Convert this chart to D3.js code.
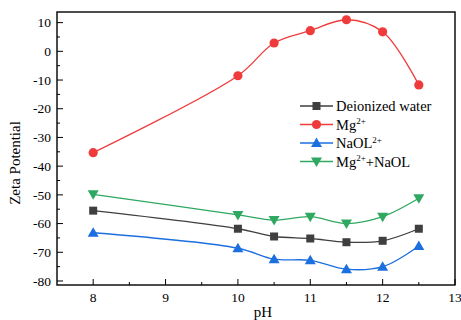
<!DOCTYPE html>
<html><head><meta charset="utf-8">
<script src="https://cdn.jsdelivr.net/npm/d3@7"></script>
<style>body{margin:0;background:#fff}svg{display:block}text{font-family:"Liberation Serif","DejaVu Serif",serif}</style>
</head><body><svg id="c" width="461" height="320"></svg>
<script>
const pH = [8, 10, 10.5, 11, 11.5, 12, 12.5];
const deionized = [-55.5, -61.8, -64.5, -65.2, -66.5, -66.0, -61.8];
const mg = [-35.3, -8.5, 2.9, 7.2, 11.0, 6.8, -11.7];
const naol = [-63.2, -68.6, -72.4, -72.8, -75.9, -75.0, -67.8];
const mgNaol = [-49.8, -57.0, -58.8, -57.6, -60.0, -57.6, -51.2];
const xTicks = [8, 9, 10, 11, 12, 13];
const yTicks = [10, 0, -10, -20, -30, -40, -50, -60, -70, -80];

const series = [
  {name: "Deionized water", vals: deionized, color: "#3f3f3f", sym: "square", sup: null},
  {name: "Mg", vals: mg, color: "#ef3b3b", sym: "circle", sup: "2+", after: ""},
  {name: "NaOL", vals: naol, color: "#1b6fdf", sym: "up", sup: "2+", after: ""},
  {name: "Mg", vals: mgNaol, color: "#2fa862", sym: "down", sup: "2+", after: "+NaOL"}
];

const svg = d3.select("#c");
const L = 57, R = 455, T = 12, B = 285;
const x = d3.scaleLinear().domain([7.5, 13]).range([L, R]);
const y = d3.scaleLinear().domain([-81.4, 13.7]).range([B, T]);

svg.append("rect").attr("x", L).attr("y", T).attr("width", R - L).attr("height", B - T)
  .attr("fill", "none").attr("stroke", "#000").attr("stroke-width", 1.4);

const yMinor = d3.range(-80, 14, 5);
const ag = svg.append("g");
yMinor.forEach(v => {
  const major = v % 10 === 0;
  ag.append("line").attr("x1", L).attr("x2", L + (major ? 6 : 3))
    .attr("y1", y(v)).attr("y2", y(v)).attr("stroke", "#000").attr("stroke-width", 1);
});
yTicks.forEach(v => {
  ag.append("text").attr("x", L - 6).attr("y", y(v)).attr("dy", "0.35em")
    .attr("text-anchor", "end").attr("font-size", 13.5).text(v);
});
const xMinor = d3.range(8, 13.01, 0.5);
xMinor.forEach(v => {
  const major = Number.isInteger(v);
  ag.append("line").attr("x1", x(v)).attr("x2", x(v))
    .attr("y1", B).attr("y2", B - (major ? 6 : 3)).attr("stroke", "#000").attr("stroke-width", 1);
});
xTicks.forEach(v => {
  ag.append("text").attr("x", x(v)).attr("y", 302).attr("text-anchor", "middle")
    .attr("font-size", 13.5).text(v);
});

svg.append("text").attr("x", 263).attr("y", 317).attr("text-anchor", "middle")
  .attr("font-size", 15).text("pH");
svg.append("text").attr("transform", "translate(20,163) rotate(-90)")
  .attr("text-anchor", "middle").attr("font-size", 15).text("Zeta Potential");

function marker(g, sym, cx, cy, color) {
  if (sym === "square") {
    g.append("rect").attr("x", cx - 4).attr("y", cy - 4).attr("width", 8).attr("height", 8).attr("fill", color);
  } else if (sym === "circle") {
    g.append("circle").attr("cx", cx).attr("cy", cy).attr("r", 4.6).attr("fill", color);
  } else if (sym === "up") {
    g.append("path").attr("d", `M${cx},${cy - 5.5}L${cx + 5.5},${cy + 4}L${cx - 5.5},${cy + 4}Z`).attr("fill", color);
  } else {
    g.append("path").attr("d", `M${cx},${cy + 5.5}L${cx + 5.5},${cy - 4}L${cx - 5.5},${cy - 4}Z`).attr("fill", color);
  }
}

const line = d3.line().x(d => x(d[0])).y(d => y(d[1])).curve(d3.curveCatmullRom.alpha(0.5));
series.forEach(s => {
  const pts = pH.map((p, i) => [p, s.vals[i]]);
  svg.append("path").attr("d", line(pts)).attr("fill", "none")
    .attr("stroke", s.color).attr("stroke-width", 1.3);
  const g = svg.append("g");
  pts.forEach(p => marker(g, s.sym, x(p[0]), y(p[1]), s.color));
});

const legY = [106, 124.5, 143, 161.5];
series.forEach((s, i) => {
  const g = svg.append("g");
  const ly = legY[i];
  g.append("line").attr("x1", 300).attr("x2", 333).attr("y1", ly).attr("y2", ly)
    .attr("stroke", s.color).attr("stroke-width", 1.3);
  marker(g, s.sym, 316.5, ly, s.color);
  const t = g.append("text").attr("x", 336).attr("y", ly).attr("dy", "0.35em").attr("font-size", 14.5);
  t.append("tspan").text(s.name);
  if (s.sup) {
    t.append("tspan").attr("font-size", 9).attr("dy", "-0.6em").text(s.sup);
    if (s.after) t.append("tspan").attr("font-size", 14.5).attr("dy", "0.37em").text(s.after);
  }
});
</script></body></html>
